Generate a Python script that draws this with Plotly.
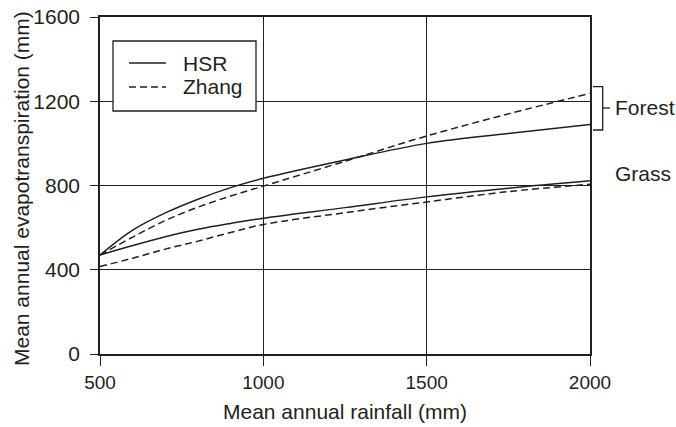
import plotly.graph_objects as go

rain = [500, 600, 700, 800, 900, 1000, 1250, 1500, 1750, 2000]
hsr_forest = [470, 588, 670, 735, 790, 834, 921, 1000, 1047, 1090]
zhang_forest = [470, 555, 634, 697, 750, 797, 915, 1035, 1140, 1237]
hsr_grass = [470, 515, 557, 592, 620, 645, 695, 746, 787, 822]
zhang_grass = [415, 455, 498, 536, 577, 615, 671, 722, 771, 806]

x_ticks = [500, 1000, 1500, 2000]
y_ticks = [0, 400, 800, 1200, 1600]

INK = "#231F20"
FONT = "Arial, Liberation Sans, Helvetica, sans-serif"

fig = go.Figure()

def add(y, dash):
    fig.add_trace(go.Scatter(x=rain, y=y, mode="lines", line_shape="spline",
                             line=dict(color=INK, width=1.5, dash=dash),
                             showlegend=False, hoverinfo="skip"))

add(hsr_forest, "solid")
add(zhang_forest, "7px,4px")
add(hsr_grass, "solid")
add(zhang_grass, "7px,4px")

W, H = 676, 427
L, R, T, B = 100, 86, 17, 73
pw, ph = W - L - R, H - T - B

def px(xp):
    return (xp - L) / pw

def py(yp):
    return (T + ph - yp) / ph

shapes = []
# legend box
shapes.append(dict(type="rect", xref="paper", yref="paper",
                   x0=px(113), x1=px(256), y0=py(111), y1=py(41),
                   line=dict(color=INK, width=1.3), fillcolor="white", layer="above"))
shapes.append(dict(type="line", xref="paper", yref="paper",
                   x0=px(129), x1=px(166), y0=py(63), y1=py(63),
                   line=dict(color=INK, width=1.4), layer="above"))
shapes.append(dict(type="line", xref="paper", yref="paper",
                   x0=px(129), x1=px(166), y0=py(87), y1=py(87),
                   line=dict(color=INK, width=1.4, dash="7px,4px"), layer="above"))
# Forest bracket
bx = px(602.7)
shapes.append(dict(type="path", xref="paper", yref="paper",
                   path=f"M {px(593)},{py(86.7)} L {bx},{py(86.7)} L {bx},{py(130)} L {px(593)},{py(130)}",
                   line=dict(color=INK, width=1.3)))
shapes.append(dict(type="line", xref="paper", yref="paper",
                   x0=bx, x1=px(610), y0=py(108), y1=py(108),
                   line=dict(color=INK, width=1.3)))

annotations = [
    dict(text="HSR", xref="paper", yref="paper", x=px(181), y=py(63),
         xanchor="left", yanchor="middle", showarrow=False,
         font=dict(size=21, color=INK, family=FONT)),
    dict(text="Zhang", xref="paper", yref="paper", x=px(181), y=py(87),
         xanchor="left", yanchor="middle", showarrow=False,
         font=dict(size=21, color=INK, family=FONT)),
    dict(text="Forest", xref="paper", yref="paper", x=px(613), y=py(107),
         xanchor="left", yanchor="middle", showarrow=False,
         font=dict(size=21, color=INK, family=FONT)),
    dict(text="Grass", xref="paper", yref="paper", x=px(613), y=py(173),
         xanchor="left", yanchor="middle", showarrow=False,
         font=dict(size=21, color=INK, family=FONT)),
    dict(text="Mean annual rainfall (mm)", xref="paper", yref="paper",
         x=0.5, y=py(411), xanchor="center", yanchor="middle", showarrow=False,
         font=dict(size=21, color=INK, family=FONT)),
    dict(text="Mean annual evapotranspiration (mm)", xref="paper", yref="paper",
         x=px(21), y=py(189), xanchor="center", yanchor="middle", showarrow=False,
         textangle=-90, font=dict(size=21, color=INK, family=FONT)),
]

fig.update_layout(
    width=W, height=H,
    margin=dict(l=L, r=R, t=T, b=B, pad=0, autoexpand=False),
    paper_bgcolor="white", plot_bgcolor="white",
    shapes=shapes, annotations=annotations,
    font=dict(family=FONT, color=INK),
    xaxis=dict(range=[500, 2000], tickvals=x_ticks, ticktext=[str(v) for v in x_ticks],
               automargin=False,
               showgrid=True, gridcolor=INK, gridwidth=1.3,
               showline=True, linecolor=INK, linewidth=1.5, mirror=True,
               ticks="outside", ticklen=10, tickwidth=1.3, tickcolor=INK,
               tickfont=dict(size=19, color=INK, family=FONT),
               ticklabelstandoff=0, zeroline=False),
    yaxis=dict(range=[0, 1600], tickvals=y_ticks, ticktext=[str(v) for v in y_ticks],
               automargin=False,
               showgrid=True, gridcolor=INK, gridwidth=1.3,
               showline=True, linecolor=INK, linewidth=1.5, mirror=True,
               ticks="outside", ticklen=8, tickwidth=1.3, tickcolor=INK,
               tickfont=dict(size=21, color=INK, family=FONT),
               ticklabelstandoff=6, zeroline=False),
)

fig.write_html("out.html")
